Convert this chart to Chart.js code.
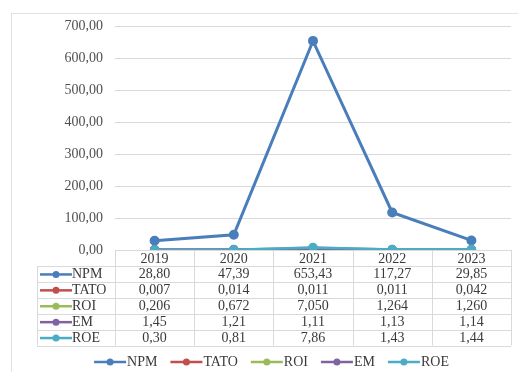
<!DOCTYPE html>
<html lang="en">
<head>
<meta charset="UTF-8">
<title>NPM, TATO, ROI, EM, ROE 2019-2023</title>
<script src="https://cdn.jsdelivr.net/npm/chart.js@4.4.3/dist/chart.umd.min.js"></script>
<style>body{margin:0;background:#fff}</style>
</head>
<body>
<canvas id="chart" width="518" height="372"></canvas>
<script>
const years = ['2019', '2020', '2021', '2022', '2023'];
const npm  = [28.80, 47.39, 653.43, 117.27, 29.85];
const tato = [0.007, 0.014, 0.011, 0.011, 0.042];
const roi  = [0.206, 0.672, 7.050, 1.264, 1.260];
const em   = [1.45, 1.21, 1.11, 1.13, 1.14];
const roe  = [0.30, 0.81, 7.86, 1.43, 1.44];

const seriesNames  = ['NPM', 'TATO', 'ROI', 'EM', 'ROE'];
const seriesData   = [npm, tato, roi, em, roe];
const seriesDigits = [2, 3, 3, 2, 2];
const seriesColors = ['#4a7ebb', '#c0504d', '#9bbb59', '#8064a2', '#4bacc6'];

const FAMILY = '"Liberation Serif", "Times New Roman", serif';
const FONT = '14px ' + FAMILY;
const TEXT = '#3a3a3a';
const LINE = '#d9d9d9';

function comma(v, d) { return Number(v).toFixed(d).replace('.', ','); }

function keyLine(ctx, x, y, color) {
  ctx.strokeStyle = color;
  ctx.lineWidth = 2.5;
  ctx.beginPath(); ctx.moveTo(x, y); ctx.lineTo(x + 32, y); ctx.stroke();
  ctx.fillStyle = color;
  ctx.beginPath(); ctx.arc(x + 16, y, 3.5, 0, Math.PI * 2); ctx.fill();
}

// data table under the axis + legend at the bottom
const tablePlugin = {
  id: 'dataTable',
  afterDraw(chart) {
    const ctx = chart.ctx;
    const xs = chart.scales.x;
    const top = chart.chartArea.bottom;
    const colW = (xs.right - xs.left) / years.length;
    const headH = 16, rowH = 15.9;
    const keyLeft = 37;
    const bottom = top + headH + rowH * seriesNames.length;
    const px = v => Math.round(v) + 0.5;

    ctx.save();
    // outer frame
    ctx.strokeStyle = '#e2e2e2';
    ctx.lineWidth = 1;
    ctx.strokeRect(11.5, 13.5, 520, 400);

    // grid of the table
    ctx.strokeStyle = LINE;
    ctx.beginPath();
    for (let i = 0; i <= years.length; i++) {
      const x = px(xs.left + i * colW);
      ctx.moveTo(x, top); ctx.lineTo(x, bottom);
    }
    ctx.moveTo(px(keyLeft), top + headH); ctx.lineTo(px(keyLeft), bottom);
    ctx.moveTo(xs.left, px(top)); ctx.lineTo(xs.right, px(top));
    for (let r = 0; r <= seriesNames.length; r++) {
      const y = px(top + headH + r * rowH);
      ctx.moveTo(keyLeft, y); ctx.lineTo(xs.right, y);
    }
    ctx.stroke();

    ctx.font = FONT;
    ctx.fillStyle = TEXT;
    ctx.textBaseline = 'middle';
    ctx.textAlign = 'center';
    years.forEach((y, i) => {
      ctx.fillText(y, xs.getPixelForValue(i), top + headH / 2 + 1);
    });

    seriesNames.forEach((name, r) => {
      const cy = top + headH + r * rowH + rowH / 2 + 0.5;
      keyLine(ctx, keyLeft + 3, cy, seriesColors[r]);
      ctx.fillStyle = TEXT;
      ctx.textAlign = 'left';
      ctx.fillText(name, keyLeft + 35, cy);
      ctx.textAlign = 'center';
      seriesData[r].forEach((v, i) => {
        ctx.fillText(comma(v, seriesDigits[r]), xs.getPixelForValue(i), cy);
      });
    });

    // legend
    const gap = 12;
    const widths = seriesNames.map(n => 34 + ctx.measureText(n).width);
    const total = widths.reduce((a, b) => a + b, 0) + gap * (widths.length - 1);
    let lx = 272 - total / 2;
    const ly = 362;
    seriesNames.forEach((name, i) => {
      keyLine(ctx, lx, ly, seriesColors[i]);
      ctx.fillStyle = TEXT;
      ctx.textAlign = 'left';
      ctx.fillText(name, lx + 33, ly + 0.5);
      lx += widths[i] + gap;
    });
    ctx.restore();
  }
};

new Chart(document.getElementById('chart'), {
  type: 'line',
  data: {
    labels: years,
    datasets: seriesNames.map((name, i) => ({
      label: name,
      data: seriesData[i],
      borderColor: seriesColors[i],
      backgroundColor: seriesColors[i],
      pointBackgroundColor: seriesColors[i],
      pointBorderColor: seriesColors[i],
      borderWidth: i === 0 ? 3 : 2.5,
      pointRadius: 3.5,
      tension: 0,
      order: seriesNames.length - i
    }))
  },
  options: {
    responsive: false,
    animation: false,
    devicePixelRatio: 1,
    layout: { padding: { top: 26, right: 7, bottom: 122, left: 0 } },
    plugins: {
      legend: { display: false },
      tooltip: { enabled: false }
    },
    scales: {
      x: { display: false, offset: true },
      y: {
        min: 0,
        max: 700,
        ticks: {
          stepSize: 100,
          padding: 12,
          color: '#505050',
          font: { family: FAMILY, size: 14 },
          callback: v => comma(v, 2)
        },
        grid: { color: LINE, drawTicks: false },
        border: { display: false },
        afterFit(scale) { scale.width = 115; }
      }
    }
  },
  plugins: [tablePlugin]
});
</script>
</body>
</html>
